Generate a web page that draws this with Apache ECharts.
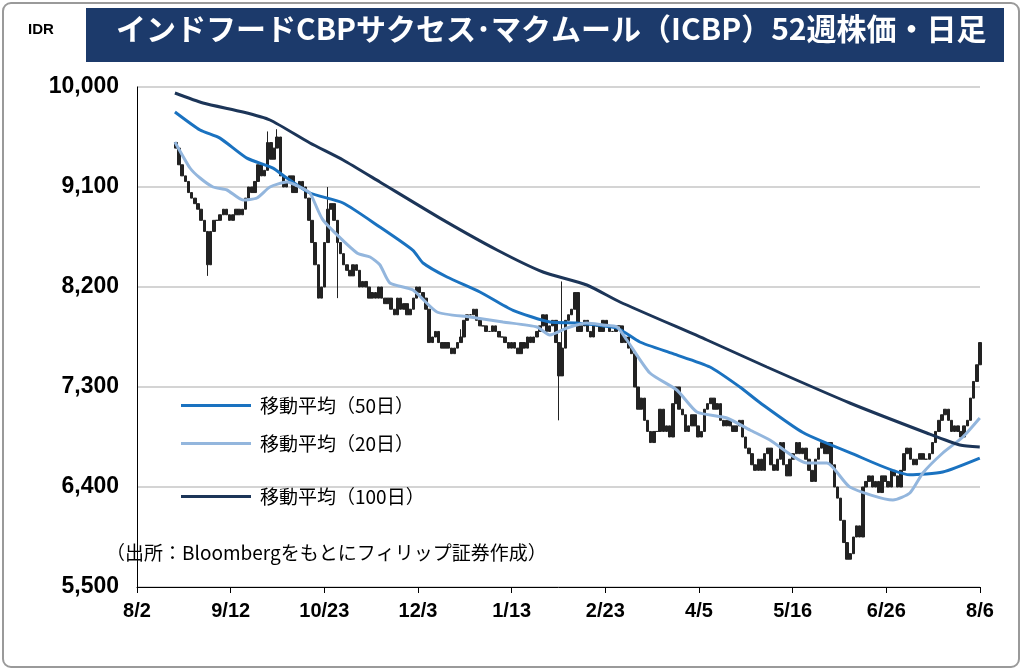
<!DOCTYPE html><html><head><meta charset="utf-8"><script src="https://cdn.jsdelivr.net/npm/echarts@6/dist/echarts.min.js"></script>
<style>body{margin:0;background:#fff}#c{width:1024px;height:672px}</style></head><body><div id="c"></div><script>
const tickLabels=['8/2','9/12','10/23','12/3','1/13','2/23','4/5','5/16','6/26','8/6'];
const closes=[9450,9300,9200,9150,9050,9000,8950,8900,8800,8700,8400,8700,8800,8800,8850,8900,8850,8800,8850,8900,8850,
8900,9000,9100,9050,9150,9300,9200,9250,9500,9350,9450,9550,9200,9100,9150,9200,9050,9100,9150,9100,9000,
8800,8600,8400,8100,8200,8600,8900,8950,8800,8600,8500,8400,8350,8300,8400,8350,8200,8250,8200,8100,8150,8100,
8200,8100,8050,8100,8000,7950,8100,8000,8050,7950,8000,8100,8200,8150,8100,8000,7700,7750,7800,7700,7650,
7700,7650,7600,7650,7700,7750,7900,7950,7950,8000,7900,7850,7850,7800,7800,7850,7800,7750,7750,7700,7650,7700,7650,7600,
7700,7650,7750,7700,7750,7800,7850,7950,7800,7850,7900,7700,7400,7650,7900,7950,8000,8150,7800,7850,
7900,7800,7750,7850,7850,7800,7900,7850,7800,7800,7850,7850,7700,7750,7650,7600,7300,7100,
7200,7000,6900,6800,6900,6900,7100,6900,6950,6850,7150,7300,7100,7050,6900,6950,7050,6950,
6850,6900,7100,7150,7200,7100,7150,7000,6950,7000,6950,6900,6950,7000,6850,6750,6700,6600,6550,
6650,6550,6700,6750,6600,6550,6650,6800,6600,6500,6650,6700,6800,6700,6750,6650,6550,6450,
6650,6750,6800,6700,6800,6600,6400,6300,6100,5900,5750,5800,5950,6050,5950,
6400,6450,6500,6400,6450,6350,6500,6450,6400,6550,6500,6400,6550,6700,6750,6650,6600,
6650,6700,6650,6650,6700,6800,6900,7000,7050,7100,7000,6900,6950,6900,6850,6950,7000,7200,7350,7500,7700];
const openFirst=9500;
const wickHigh={29:9600,32:9620,48:9100,90:7820,122:8250};
const wickLow={10:8300,51:8100,121:7000};
const ma100Days=[16.6,28.9,46.4,58.2,75.7,90.2,106.3,132.6,157.6,177.7,196.9,211.4,249.5,275.7,312,345.7,360.2,368.9];
const ma100=[9946,9856,9775,9703,9496,9343,9145,8820,8533,8335,8218,8065,7723,7480,7156,6886,6778,6760];
const ma50Days=[16.6,27.6,36.3,48.1,59.5,65.6,75.7,90.2,106.3,120.8,125.2,135.7,150.1,164.6,180.7,192.6,210.1,220.1,234.6,250.8,263.9,272.6,291.5,312,338.3,352.7,368.9];
const ma50=[9775,9613,9540,9360,9270,9180,9046,8956,8740,8530,8416,8290,8155,7990,7885,7876,7830,7705,7600,7480,7300,7160,6890,6710,6510,6535,6660];
const ma20Days=[16.6,23.2,27.6,33.3,39.4,46.4,52.5,58.2,65.6,71.3,75.7,81.4,96.3,102,106.3,110.7,120.8,131.3,145.7,160.2,175.1,180.7,188.2,196.9,203.9,210.1,214.4,224.5,236.3,245.1,258.2,268.3,277,293.2,302,312,330.9,338.3,344,352.7,361.5,368.9];
const ma20=[9505,9271,9181,9100,9073,8983,9001,9100,9145,9100,9046,8803,8506,8470,8400,8236,8173,7975,7930,7885,7840,7768,7831,7876,7858,7840,7723,7426,7273,7075,7021,6913,6823,6616,6616,6400,6283,6346,6526,6706,6850,7021];
const firstDay=17,lastDay=369;
const candles=closes.map((c,i)=>{const o=i?closes[i-1]:openFirst;const d=firstDay+i*(lastDay-firstDay)/(closes.length-1);
return [d,o,c,wickLow[i]||Math.min(o,c),wickHigh[i]||Math.max(o,c)];});
const ch=echarts.init(document.getElementById('c'));
const F='"Liberation Sans", Arial, sans-serif';
const J='"Noto Sans CJK JP"';
const C50='#1a72c0',C20='#93b6dd',C100='#1c3558';
const leg=(name,top)=>({orient:'horizontal',left:176,top:top,itemWidth:70,itemHeight:3,itemGap:10,data:[name],icon:'rect',
 textStyle:{fontSize:19,fontFamily:J,color:'#000',padding:[0,0,0,4]}});
ch.setOption({animation:false,
graphic:[{type:'rect',shape:{x:3,y:3,width:1016,height:664,r:8},style:{fill:'#fff',stroke:'#9a9a9a',lineWidth:2}},
{type:'rect',shape:{x:86,y:8,width:918,height:54},style:{fill:'#1c3a6b'}},
{type:'text',left:116,top:14,style:{text:'インドフードCBPサクセス･マクムール（ICBP）52週株価・日足',fill:'#fff',font:'bold 30px '+J}},
{type:'text',left:28,top:22,style:{text:'IDR',fill:'#000',font:'bold 15px '+F}},
{type:'text',left:106,top:543,style:{text:'（出所：Bloombergをもとにフィリップ証券作成）',fill:'#000',font:'19px '+J}}],
grid:{left:137,right:44,top:87,bottom:85,show:true,borderColor:'#bbb',borderWidth:1},
legend:[leg('移動平均（50日）',391),leg('移動平均（20日）',429),leg('移動平均（100日）',482)],
xAxis:{type:'value',min:0,max:369,interval:41,axisLine:{lineStyle:{color:'#000'}},axisTick:{show:true,length:6,lineStyle:{color:'#000'}},splitLine:{show:false},
axisLabel:{formatter:(v)=>tickLabels[Math.round(v/41)],fontSize:20,fontWeight:'bold',color:'#000',fontFamily:F,margin:14}},
yAxis:{type:'value',min:5500,max:10000,interval:900,axisLine:{show:true,lineStyle:{color:'#000'}},axisTick:{show:false},
splitLine:{lineStyle:{color:'#d4d4d4',width:2}},axisLabel:{formatter:v=>v.toLocaleString('en-US'),fontSize:23,fontWeight:'bold',color:'#000',fontFamily:F,margin:18}},
series:[
{type:'candlestick',data:candles,barWidth:3,encode:{x:0,y:[1,2,3,4]},itemStyle:{color:'#222',color0:'#222',borderColor:'#222',borderColor0:'#222',borderWidth:1}},
{name:'移動平均（50日）',type:'line',data:ma50Days.map((d,i)=>[d,ma50[i]]),showSymbol:false,smooth:0.2,lineStyle:{color:C50,width:3},itemStyle:{color:C50}},
{name:'移動平均（20日）',type:'line',data:ma20Days.map((d,i)=>[d,ma20[i]]),showSymbol:false,smooth:0.2,lineStyle:{color:C20,width:3},itemStyle:{color:C20}},
{name:'移動平均（100日）',type:'line',data:ma100Days.map((d,i)=>[d,ma100[i]]),showSymbol:false,smooth:0.2,lineStyle:{color:C100,width:3},itemStyle:{color:C100}}
]});
</script></body></html>
